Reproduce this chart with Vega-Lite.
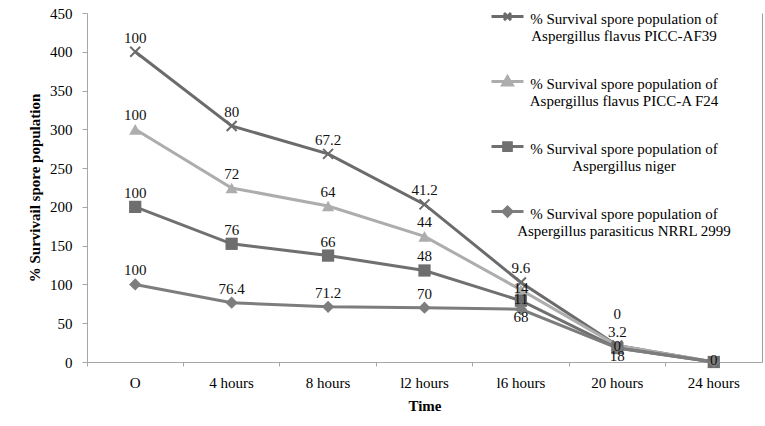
{
  "$schema": "https://vega.github.io/schema/vega-lite/v6.json",
  "width": 675,
  "height": 349,
  "autosize": {"type": "none"},
  "padding": {"left": 87, "top": 13, "right": 3, "bottom": 64},
  "background": "white",
  "config": {"font": "Liberation Serif", "view": {"stroke": null}},
  "data": {"values": [
    {"time": "O", "series": "% Survival spore population of Aspergillus flavus PICC-AF39", "k": 4, "value": 100},
    {"time": "4 hours", "series": "% Survival spore population of Aspergillus flavus PICC-AF39", "k": 4, "value": 80},
    {"time": "8 hours", "series": "% Survival spore population of Aspergillus flavus PICC-AF39", "k": 4, "value": 67.2},
    {"time": "l2 hours", "series": "% Survival spore population of Aspergillus flavus PICC-AF39", "k": 4, "value": 41.2},
    {"time": "l6 hours", "series": "% Survival spore population of Aspergillus flavus PICC-AF39", "k": 4, "value": 9.6},
    {"time": "20 hours", "series": "% Survival spore population of Aspergillus flavus PICC-AF39", "k": 4, "value": 0},
    {"time": "24 hours", "series": "% Survival spore population of Aspergillus flavus PICC-AF39", "k": 4, "value": 0},
    {"time": "O", "series": "% Survival spore population of Aspergillus flavus PICC-A F24", "k": 3, "value": 100},
    {"time": "4 hours", "series": "% Survival spore population of Aspergillus flavus PICC-A F24", "k": 3, "value": 72},
    {"time": "8 hours", "series": "% Survival spore population of Aspergillus flavus PICC-A F24", "k": 3, "value": 64},
    {"time": "l2 hours", "series": "% Survival spore population of Aspergillus flavus PICC-A F24", "k": 3, "value": 44},
    {"time": "l6 hours", "series": "% Survival spore population of Aspergillus flavus PICC-A F24", "k": 3, "value": 14},
    {"time": "20 hours", "series": "% Survival spore population of Aspergillus flavus PICC-A F24", "k": 3, "value": 3.2},
    {"time": "24 hours", "series": "% Survival spore population of Aspergillus flavus PICC-A F24", "k": 3, "value": 0},
    {"time": "O", "series": "% Survival spore population of Aspergillus niger", "k": 2, "value": 100},
    {"time": "4 hours", "series": "% Survival spore population of Aspergillus niger", "k": 2, "value": 76},
    {"time": "8 hours", "series": "% Survival spore population of Aspergillus niger", "k": 2, "value": 66},
    {"time": "l2 hours", "series": "% Survival spore population of Aspergillus niger", "k": 2, "value": 48},
    {"time": "l6 hours", "series": "% Survival spore population of Aspergillus niger", "k": 2, "value": 11},
    {"time": "20 hours", "series": "% Survival spore population of Aspergillus niger", "k": 2, "value": 0},
    {"time": "24 hours", "series": "% Survival spore population of Aspergillus niger", "k": 2, "value": 0},
    {"time": "O", "series": "% Survival spore population of Aspergillus parasiticus NRRL 2999", "k": 1, "value": 100},
    {"time": "4 hours", "series": "% Survival spore population of Aspergillus parasiticus NRRL 2999", "k": 1, "value": 76.4},
    {"time": "8 hours", "series": "% Survival spore population of Aspergillus parasiticus NRRL 2999", "k": 1, "value": 71.2},
    {"time": "l2 hours", "series": "% Survival spore population of Aspergillus parasiticus NRRL 2999", "k": 1, "value": 70},
    {"time": "l6 hours", "series": "% Survival spore population of Aspergillus parasiticus NRRL 2999", "k": 1, "value": 68},
    {"time": "20 hours", "series": "% Survival spore population of Aspergillus parasiticus NRRL 2999", "k": 1, "value": 18},
    {"time": "24 hours", "series": "% Survival spore population of Aspergillus parasiticus NRRL 2999", "k": 1, "value": 0}
  ]},
  "transform": [
    {"stack": "value", "groupby": ["time"], "sort": [{"field": "k", "order": "ascending"}], "as": ["y0", "y1"]}
  ],
  "encoding": {
    "x": {
      "field": "time", "type": "ordinal",
      "sort": ["O", "4 hours", "8 hours", "l2 hours", "l6 hours", "20 hours", "24 hours"],
      "scale": {"type": "band", "paddingInner": 0, "paddingOuter": 0},
      "axis": {
        "title": "Time", "titleFontSize": 15, "titleFontWeight": "bold", "titleColor": "#000", "titlePadding": 8,
        "labelFontSize": 15, "labelColor": "#000", "labelAngle": 0, "labelPadding": 9,
        "bandPosition": 0,
        "domainColor": "#a6a6a6", "tickColor": "#a6a6a6", "tickSize": 4
      }
    },
    "y": {
      "field": "y1", "type": "quantitative",
      "scale": {"domain": [0, 450], "nice": false},
      "axis": null
    }
  },
  "layer": [
    {
      "mark": {"type": "line", "strokeWidth": 3},
      "encoding": {
        "y": {
          "field": "y1", "type": "quantitative",
          "scale": {"domain": [0, 450], "nice": false},
          "axis": {
            "title": "% Survivail spore population", "titleFontSize": 15, "titleFontWeight": "bold", "titleColor": "#000", "titlePadding": 7,
            "values": [0, 50, 100, 150, 200, 250, 300, 350, 400, 450],
            "grid": false, "labelFontSize": 15, "labelColor": "#000", "labelPadding": 10,
            "domainColor": "#a6a6a6", "tickColor": "#a6a6a6", "tickSize": 5
          }
        },
        "stroke": {
          "field": "series", "type": "nominal", "legend": null,
          "scale": {
            "domain": ["% Survival spore population of Aspergillus flavus PICC-AF39", "% Survival spore population of Aspergillus flavus PICC-A F24", "% Survival spore population of Aspergillus niger", "% Survival spore population of Aspergillus parasiticus NRRL 2999"],
            "range": ["#6b6b6b", "#adadad", "#707070", "#7d7d7d"]
          }
        }
      }
    },
    {
      "transform": [{"filter": "datum.k == 4"}],
      "mark": {"type": "point", "shape": "M-1,-1L1,1M-1,1L1,-1", "filled": false, "size": 100, "strokeWidth": 2, "stroke": "#6b6b6b", "opacity": 1}
    },
    {
      "transform": [{"filter": "datum.k < 4"}],
      "mark": {"type": "point", "filled": true, "size": 150, "opacity": 1},
      "encoding": {
        "shape": {
          "field": "series", "type": "nominal", "legend": null,
          "scale": {
            "domain": ["% Survival spore population of Aspergillus flavus PICC-A F24", "% Survival spore population of Aspergillus niger", "% Survival spore population of Aspergillus parasiticus NRRL 2999"],
            "range": ["triangle-up", "square", "diamond"]
          }
        },
        "fill": {
          "field": "series", "type": "nominal", "legend": null,
          "scale": {
            "domain": ["% Survival spore population of Aspergillus flavus PICC-A F24", "% Survival spore population of Aspergillus niger", "% Survival spore population of Aspergillus parasiticus NRRL 2999"],
            "range": ["#adadad", "#6e6e6e", "#7d7d7d"]
          }
        }
      }
    },
    {
      "transform": [{"filter": "indexof(['l6 hours','20 hours','24 hours'], datum.time) < 0 || (datum.time == 'l6 hours' && datum.k == 4) || (datum.time == '20 hours' && datum.k == 3)"}],
      "mark": {"type": "text", "fontSize": 15, "color": "#111", "dy": -14, "baseline": "middle"},
      "encoding": {"text": {"field": "value", "type": "quantitative"}}
    },
    {
      "transform": [{"filter": "(datum.time == 'l6 hours' && (datum.k == 2 || datum.k == 3)) || (datum.time == '20 hours' && datum.k == 2) || (datum.time == '24 hours' && datum.k == 1)"}],
      "mark": {"type": "text", "fontSize": 15, "color": "#111", "dy": -2, "baseline": "middle"},
      "encoding": {"text": {"field": "value", "type": "quantitative"}}
    },
    {
      "transform": [{"filter": "(datum.time == 'l6 hours' || datum.time == '20 hours') && datum.k == 1"}],
      "mark": {"type": "text", "fontSize": 15, "color": "#111", "dy": 8, "baseline": "middle"},
      "encoding": {"text": {"field": "value", "type": "quantitative"}}
    },
    {
      "transform": [{"filter": "datum.time == '20 hours' && datum.k == 4"}],
      "mark": {"type": "text", "fontSize": 15, "color": "#111", "dy": -32, "baseline": "middle"},
      "encoding": {"text": {"field": "value", "type": "quantitative"}}
    },
    {
      "transform": [{"filter": "datum.k < 0"}],
      "mark": {"type": "point", "filled": true, "opacity": 1},
      "encoding": {
        "y": {
          "field": "y1", "type": "quantitative",
          "scale": {"domain": [0, 450], "nice": false},
          "axis": {"orient": "right", "title": null, "labels": false, "ticks": false, "grid": false, "domainColor": "#9a9a9a"}
        },
        "shape": {
          "field": "series", "type": "nominal",
          "scale": {
            "domain": ["% Survival spore population of Aspergillus flavus PICC-AF39", "% Survival spore population of Aspergillus flavus PICC-A F24", "% Survival spore population of Aspergillus niger", "% Survival spore population of Aspergillus parasiticus NRRL 2999"],
            "range": ["M-1,-0.12L1,-0.12M-0.22,-0.34L0.22,0.1M-0.22,0.1L0.22,-0.34", "M-1,-0.12L1,-0.12M0,-0.42L0.3,0.1L-0.3,0.1Z", "M-1,-0.12L1,-0.12M-0.24,-0.36L0.24,-0.36L0.24,0.12L-0.24,0.12Z", "M-1,-0.12L1,-0.12M0,-0.4L0.28,-0.12L0,0.16L-0.28,-0.12Z"]
          },
          "legend": {"orient": "none", "legendX": 403, "legendY": -12, "title": null, "symbolSize": 1024, "symbolStrokeWidth": 3, "labelFontSize": 15, "labelColor": "#000", "labelAlign": "center", "labelOffset": 99, "rowPadding": 22, "labelLimit": 400, "labelExpr": "['% Survival spore population of', replace(datum.label, '% Survival spore population of ', '')]"}
        },
        "fill": {
          "field": "series", "type": "nominal",
          "scale": {
            "domain": ["% Survival spore population of Aspergillus flavus PICC-AF39", "% Survival spore population of Aspergillus flavus PICC-A F24", "% Survival spore population of Aspergillus niger", "% Survival spore population of Aspergillus parasiticus NRRL 2999"],
            "range": ["#6b6b6b", "#adadad", "#707070", "#7d7d7d"]
          },
          "legend": {"orient": "none", "legendX": 403, "legendY": -12, "title": null, "symbolSize": 1024, "symbolStrokeWidth": 3, "labelFontSize": 15, "labelColor": "#000", "labelAlign": "center", "labelOffset": 99, "rowPadding": 22, "labelLimit": 400, "labelExpr": "['% Survival spore population of', replace(datum.label, '% Survival spore population of ', '')]"}
        },
        "stroke": {
          "field": "series", "type": "nominal",
          "scale": {
            "domain": ["% Survival spore population of Aspergillus flavus PICC-AF39", "% Survival spore population of Aspergillus flavus PICC-A F24", "% Survival spore population of Aspergillus niger", "% Survival spore population of Aspergillus parasiticus NRRL 2999"],
            "range": ["#6b6b6b", "#adadad", "#707070", "#7d7d7d"]
          },
          "legend": {"orient": "none", "legendX": 403, "legendY": -12, "title": null, "symbolSize": 1024, "symbolStrokeWidth": 3, "labelFontSize": 15, "labelColor": "#000", "labelAlign": "center", "labelOffset": 99, "rowPadding": 22, "labelLimit": 400, "labelExpr": "['% Survival spore population of', replace(datum.label, '% Survival spore population of ', '')]"}
        }
      }
    }
  ],
  "resolve": {
    "scale": {"stroke": "independent", "fill": "independent", "shape": "independent"},
    "axis": {"y": "independent"}
  }
}
